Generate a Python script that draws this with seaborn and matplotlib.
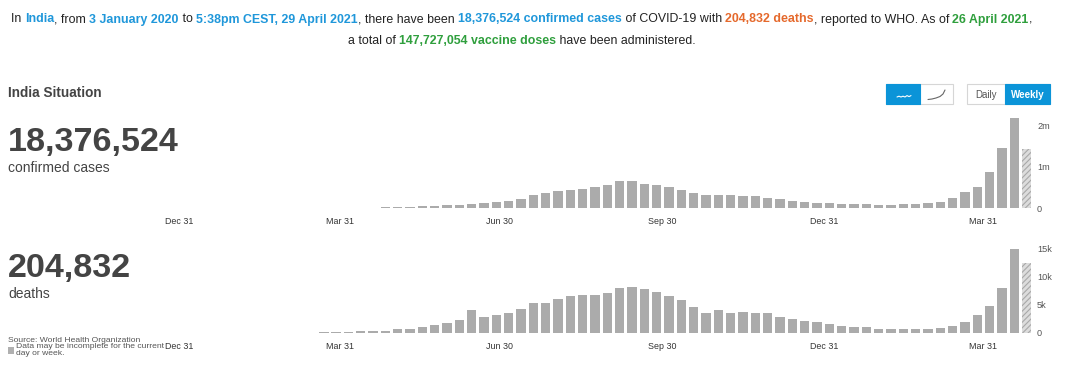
import numpy as np
import pandas as pd
import matplotlib
matplotlib.use("Agg")
import matplotlib.pyplot as plt
import seaborn as sns
from matplotlib.patches import Rectangle
from matplotlib.lines import Line2D

# ---------------- data ----------------
ORIGIN = "2019-12-31"
WEEK0 = "2020-03-22"
cases_k = [1, 6, 8, 10, 12, 15, 20, 28, 38, 48, 62, 75, 90, 120, 140, 170, 222, 311, 360,
           400, 434, 450, 500, 565, 640, 640, 590, 557, 505, 443, 360, 315, 311, 303, 287,
           295, 240, 213, 172, 148, 131, 118, 107, 98, 90, 82, 82, 90, 107, 123, 156, 246,
           377, 516, 877, 1434, 2172, 1418]
deaths = [30, 60, 120, 180, 200, 350, 700, 660, 950, 1300, 1750, 2300, 4000, 2850, 3200,
          3450, 4150, 5300, 5350, 6000, 6600, 6750, 6800, 7150, 8000, 8250, 7850, 7350,
          6600, 5750, 4500, 3500, 4000, 3500, 3600, 3500, 3500, 2850, 2400, 2100, 1800,
          1550, 1250, 1000, 900, 650, 600, 600, 700, 700, 800, 1100, 1800, 3100, 4700,
          7950, 15000, 12400]
partial = [False] * (len(cases_k) - 1) + [True]

x_tick_dates = ["2019-12-31", "2020-03-31", "2020-06-30", "2020-09-30", "2020-12-31", "2021-03-31"]
x_tick_labels = ["Dec 31", "Mar 31", "Jun 30", "Sep 30", "Dec 31", "Mar 31"]
cases_ticks = [0, 1_000_000, 2_000_000]
cases_tick_labels = ["0", "1m", "2m"]
deaths_ticks = [0, 5000, 10000, 15000]
deaths_tick_labels = ["0", "5k", "10k", "15k"]

total_cases = "18,376,524"
total_deaths = "204,832"

# ---------------- style ----------------
sns.set_style("white")
FONT = ["Liberation Sans", "DejaVu Sans"]
plt.rcParams["font.family"] = FONT
plt.rcParams["hatch.linewidth"] = 0.8

BLUE = "#1f97da"
ORANGE = "#e5692c"
GREEN = "#2f9f3d"
DARK = "#222222"
GREY_TXT = "#444444"
BAR = "#ababab"
BTN_BLUE = "#0b94d8"

W, H = 1080, 388
fig = plt.figure(figsize=(W / 100, H / 100), dpi=100)
fig.patch.set_facecolor("white")


def fx(x):
    return x / W


def fy(y):
    return 1 - y / H


# ---------------- dataframe ----------------
df = pd.DataFrame({
    "week": pd.date_range(WEEK0, periods=len(cases_k), freq="7D"),
    "cases": np.array(cases_k) * 1000,
    "deaths": deaths,
    "status": ["partial" if p else "complete" for p in partial],
})
df["day"] = (df["week"] - pd.Timestamp(ORIGIN)).dt.days
tick_days = [(pd.Timestamp(d) - pd.Timestamp(ORIGIN)).days for d in x_tick_dates]

X0_PX, PX_PER_DAY = 179.4, 1.7612
XLIM = (-10, 485)
left_px = X0_PX + PX_PER_DAY * XLIM[0]
right_px = X0_PX + PX_PER_DAY * XLIM[1]

palette = {"complete": BAR, "partial": "#dcdcdc"}


def bar_panel(ycol, base_px, top_px, ylim_top, yticks, ylabels):
    ax = fig.add_axes([fx(left_px), fy(base_px), (right_px - left_px) / W, (base_px - top_px) / H])
    sns.barplot(data=df, x="day", y=ycol, hue="status", palette=palette, native_scale=True,
                dodge=False, width=0.76, legend=False, saturation=1, ax=ax, linewidth=0)
    pdays = df.loc[df["status"] == "partial", "day"].tolist()
    for p in ax.patches:
        cx = p.get_x() + p.get_width() / 2
        if any(abs(cx - d) < 1 for d in pdays):
            p.set_hatch("//////")
            p.set_edgecolor("#a8a8a8")
            p.set_linewidth(0)
    ax.set_xlim(*XLIM)
    ax.set_ylim(0, ylim_top)
    ax.set_xticks(tick_days)
    ax.set_xticklabels(x_tick_labels)
    ax.yaxis.tick_right()
    ax.set_yticks(yticks)
    ax.set_yticklabels(ylabels)
    ax.tick_params(axis="x", length=0, pad=6.5, labelsize=6.4, labelcolor="#333333")
    ax.tick_params(axis="y", length=0, pad=2.5, labelsize=6.6, labelcolor="#555555")
    for lab in ax.get_yticklabels():
        lab.set_horizontalalignment("left")
    ax.set_xlabel("")
    ax.set_ylabel("")
    for s in ax.spines.values():
        s.set_visible(False)
    ax.set_facecolor("none")
    return ax


ax1 = bar_panel("cases", 208, 115, 2.241e6, cases_ticks, cases_tick_labels)
ax2 = bar_panel("deaths", 332.5, 240, 16.6e3, deaths_ticks, deaths_tick_labels)

# ---------------- header text ----------------
renderer = fig.canvas.get_renderer()


def text_w(s, size, weight):
    t = fig.text(0, 0, "|" + s + "|", fontsize=size, fontweight=weight, family=FONT)
    t2 = fig.text(0, 0, "||", fontsize=size, fontweight=weight, family=FONT)
    w = t.get_window_extent(renderer).width - t2.get_window_extent(renderer).width
    t.remove()
    t2.remove()
    return w


line1 = [("In ", DARK, "normal"), ("India", BLUE, "bold"), (", from ", DARK, "normal"),
         ("3 January 2020", BLUE, "bold"), (" to ", DARK, "normal"),
         ("5:38pm CEST, 29 April 2021", BLUE, "bold"), (", there have been ", DARK, "normal"),
         ("18,376,524 confirmed cases", BLUE, "bold"), (" of COVID-19 with ", DARK, "normal"),
         ("204,832 deaths", ORANGE, "bold"), (", reported to WHO. As of ", DARK, "normal"),
         ("26 April 2021", GREEN, "bold"), (",", DARK, "normal")]
line2 = [("a total of ", DARK, "normal"), ("147,727,054 vaccine doses", GREEN, "bold"),
         (" have been administered.", DARK, "normal")]

base_size = 10
w1 = sum(text_w(s, base_size, wt) for s, c, wt in line1)
hsize = base_size * 1023 / w1
CENTER_X = 521.5


def rich_line(pieces, baseline_px, size):
    widths = [text_w(s, size, wt) for s, c, wt in pieces]
    x = CENTER_X - sum(widths) / 2
    for (s, c, wt), w in zip(pieces, widths):
        fig.text(fx(x), fy(baseline_px), s, color=c, fontweight=wt, fontsize=size,
                 family=FONT, ha="left", va="baseline")
        x += w


rich_line(line1, 22.5, hsize)
rich_line(line2, 44.5, hsize)

# ---------------- left panel text ----------------
fig.text(fx(8), fy(97), "India Situation", fontsize=9.8, fontweight="bold", color=GREY_TXT,
         ha="left", va="baseline")
fig.text(fx(8), fy(151.5), total_cases, fontsize=24.6, fontweight="bold", color=GREY_TXT,
         ha="left", va="baseline")
fig.text(fx(8), fy(172), "confirmed cases", fontsize=10, color=GREY_TXT, ha="left", va="baseline")
fig.text(fx(8), fy(277.5), total_deaths, fontsize=24.6, fontweight="bold", color=GREY_TXT,
         ha="left", va="baseline")
fig.text(fx(8), fy(298), "deaths", fontsize=10, color=GREY_TXT, ha="left", va="baseline")

fig.text(fx(8), fy(342), "Source: World Health Organization", fontsize=6.1, color="#555555",
         ha="left", va="baseline")
fig.add_artist(Rectangle((fx(8), fy(354)), 6 / W, 7 / H, transform=fig.transFigure,
                         facecolor="#b0b0b0", edgecolor="none"))
fig.text(fx(16), fy(348), "Data may be incomplete for the current", fontsize=6.1,
         color="#555555", ha="left", va="baseline")
fig.text(fx(16), fy(355), "day or week.", fontsize=6.1, color="#555555", ha="left", va="baseline")

# ---------------- buttons ----------------
def box(x0, y0, x1, y1, fc, ec="#d6d6d6"):
    fig.add_artist(Rectangle((fx(x0), fy(y1)), (x1 - x0) / W, (y1 - y0) / H,
                             transform=fig.transFigure, facecolor=fc, edgecolor=ec, linewidth=0.8))


box(886, 84, 953, 104, "white")
box(886, 84, 920, 104, BTN_BLUE, BTN_BLUE)
box(967, 84, 1050, 104, "white")
box(1005, 84, 1050, 104, BTN_BLUE, BTN_BLUE)

sq_x = [897, 899, 901, 903, 905, 907, 909, 911]
sq_y = [97, 96.2, 97, 96.2, 97, 95.6, 96.6, 95.6]
fig.add_artist(Line2D([fx(v) for v in sq_x], [fy(v) for v in sq_y], transform=fig.transFigure,
                      color="white", linewidth=0.8))
cv_x = [928, 932, 936, 940, 943, 945]
cv_y = [99.5, 99, 98, 96.5, 94, 90]
fig.add_artist(Line2D([fx(v) for v in cv_x], [fy(v) for v in cv_y], transform=fig.transFigure,
                      color="#666666", linewidth=0.8))
fig.text(fx(986), fy(94.5), "Daily", fontsize=7, color="#555555", ha="center", va="center")
fig.text(fx(1027.5), fy(94.5), "Weekly", fontsize=7, color="white", ha="center", va="center",
         fontweight="bold")

fig.savefig("out.png", dpi=100, facecolor="white")
